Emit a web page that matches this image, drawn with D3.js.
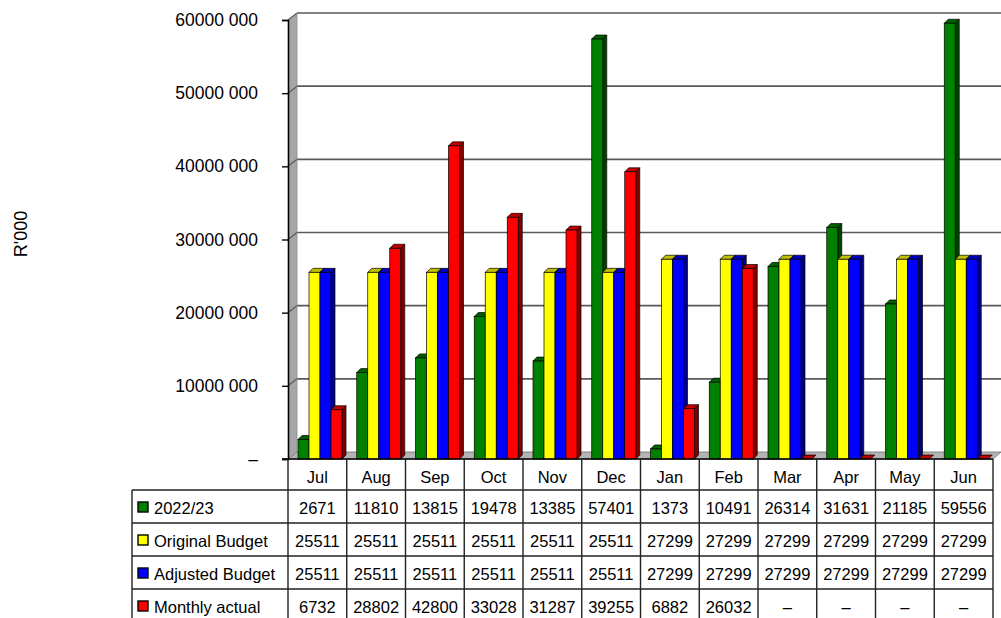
<!DOCTYPE html>
<html>
<head>
<meta charset="utf-8">
<script src="https://cdn.jsdelivr.net/npm/d3@7"></script>
<style>
  body { margin: 0; background: #fff; }
  text { font-family: "Liberation Sans", Arial, sans-serif; fill: #000; }
</style>
</head>
<body>
<svg id="chart" width="1001" height="618"></svg>
<script>
// ---- data (R'000) ----
const months = ["Jul","Aug","Sep","Oct","Nov","Dec","Jan","Feb","Mar","Apr","May","Jun"];
const seriesNames = ["2022/23","Original Budget","Adjusted Budget","Monthly actual"];
const actual2223 = [2671,11810,13815,19478,13385,57401,1373,10491,26314,31631,21185,59556];
const originalBudget = [25511,25511,25511,25511,25511,25511,27299,27299,27299,27299,27299,27299];
const adjustedBudget = [25511,25511,25511,25511,25511,25511,27299,27299,27299,27299,27299,27299];
const monthlyActual = [6732,28802,42800,33028,31287,39255,6882,26032,null,null,null,null];
const yTicks = [0,10000,20000,30000,40000,50000,60000];
const yTitle = "R'000";

const series = [actual2223, originalBudget, adjustedBudget, monthlyActual];
const colors = [
  {front:"#008000", side:"#004000", top:"#006000"},
  {front:"#ffff00", side:"#808000", top:"#c0c000"},
  {front:"#0000ff", side:"#000080", top:"#0000c0"},
  {front:"#ff0000", side:"#800000", top:"#c00000"}
];

const svg = d3.select("#chart");
const plotLeft = 288, plotRight = 993, plotTop = 20, plotBottom = 459;
const wallDx = 9, wallDy = -7;     // back-wall depth
const barDx = 4, barDy = -4;       // bar depth

const x = d3.scaleBand().domain(months).range([plotLeft, plotRight]).padding(0);
const y = d3.scaleLinear().domain([0, 60000]).range([plotBottom, plotTop]);
const inner = d3.scaleBand().domain(d3.range(4)).range([0, 44]).padding(0);
const groupOffset = 10;

// left wall
svg.append("polygon")
  .attr("points", [[plotLeft, plotBottom],[plotLeft, plotTop],[plotLeft+wallDx, plotTop+wallDy],[plotLeft+wallDx, plotBottom+wallDy]].join(" "))
  .attr("fill", "#a6a6a6");
// floor
svg.append("polygon")
  .attr("points", [[plotLeft, plotBottom],[plotLeft+wallDx, plotBottom+wallDy],[1001, plotBottom+wallDy],[plotRight, plotBottom]].join(" "))
  .attr("fill", "#b4b4b4").attr("stroke", "#707070").attr("stroke-width", 0.8);

// gridlines on back wall + slant on left wall
const grid = svg.append("g");
yTicks.filter(t => t > 0).forEach(t => {
  grid.append("line")
    .attr("x1", plotLeft + wallDx).attr("x2", 1001)
    .attr("y1", y(t) + wallDy).attr("y2", y(t) + wallDy)
    .attr("stroke", "#5a5a5a").attr("stroke-width", 1.6);
  grid.append("line")
    .attr("x1", plotLeft).attr("x2", plotLeft + wallDx)
    .attr("y1", y(t)).attr("y2", y(t) + wallDy)
    .attr("stroke", "#5a5a5a").attr("stroke-width", 1.2);
});
svg.append("line")
  .attr("x1", plotLeft + wallDx).attr("x2", plotLeft + wallDx)
  .attr("y1", plotTop + wallDy).attr("y2", plotBottom + wallDy)
  .attr("stroke", "#8a8a8a").attr("stroke-width", 0.8);

// y axis
const yAxis = d3.axisLeft(y).tickValues(yTicks).tickSize(6).tickPadding(24)
  .tickFormat(d => d === 0 ? "–" : d + " 000");
const ga = svg.append("g").attr("transform", `translate(${plotLeft},0)`).call(yAxis);
ga.select(".domain").attr("stroke", "#000").attr("stroke-width", 1.6);
ga.selectAll(".tick line").attr("stroke", "#000").attr("stroke-width", 1.4);
ga.selectAll(".tick text").style("font-size", "17.5px").style("font-family", "'Liberation Sans', Arial, sans-serif").attr("fill", "#222");

// y title
svg.append("text")
  .attr("transform", "translate(27,234) rotate(-90)")
  .attr("text-anchor", "middle")
  .style("font-size", "18px")
  .attr("fill", "#222")
  .text(yTitle);

// bars
const barsG = svg.append("g");
months.forEach((m, i) => {
  series.forEach((s, k) => {
    const v = s[i] == null ? 0 : s[i];
    const x0 = x(m) + groupOffset + inner(k);
    const w = inner.bandwidth();
    const yt = y(v), yb = y(0);
    const c = colors[k];
    const g = barsG.append("g");
    if (v > 0) {
      g.append("polygon")
        .attr("points", [[x0+w, yb],[x0+w, yt],[x0+w+barDx, yt+barDy],[x0+w+barDx, yb+barDy]].join(" "))
        .attr("fill", c.side).attr("stroke", "#000").attr("stroke-width", 0.7);
    }
    g.append("polygon")
      .attr("points", [[x0, yt],[x0+barDx, yt+barDy],[x0+w+barDx, yt+barDy],[x0+w, yt]].join(" "))
      .attr("fill", c.top).attr("stroke", "#000").attr("stroke-width", 0.7);
    if (v > 0) {
      g.append("rect")
        .attr("x", x0).attr("y", yt).attr("width", w).attr("height", yb - yt)
        .attr("fill", c.front).attr("stroke", "#000").attr("stroke-width", 0.7);
    }
  });
});

// floor front edge
svg.append("line").attr("x1", plotLeft - 6).attr("x2", plotRight)
  .attr("y1", plotBottom).attr("y2", plotBottom)
  .attr("stroke", "#000").attr("stroke-width", 1.4);

// data table
const legendLeft = 132;
const rowTops = [459, 490, 523, 556, 589];
const rowH = 33;
const tbl = svg.append("g");
const lineC = "#222";
// verticals of month columns
months.forEach((m, i) => {
  tbl.append("line").attr("x1", x(m)).attr("x2", x(m)).attr("y1", plotBottom).attr("y2", 618)
    .attr("stroke", lineC).attr("stroke-width", 1.4);
});
tbl.append("line").attr("x1", plotRight).attr("x2", plotRight).attr("y1", plotBottom + wallDy + 7).attr("y2", 618)
  .attr("stroke", lineC).attr("stroke-width", 1.4);
tbl.append("line").attr("x1", legendLeft).attr("x2", legendLeft).attr("y1", rowTops[1]).attr("y2", 618)
  .attr("stroke", lineC).attr("stroke-width", 1.4);
rowTops.slice(1).forEach(t => {
  tbl.append("line").attr("x1", legendLeft).attr("x2", plotRight).attr("y1", t).attr("y2", t)
    .attr("stroke", lineC).attr("stroke-width", 1.4);
});
// month labels
months.forEach(m => {
  tbl.append("text").attr("x", x(m) + x.bandwidth()/2).attr("y", 477)
    .attr("text-anchor", "middle").attr("dominant-baseline", "central")
    .style("font-size", "16.5px").attr("fill", "#222").text(m);
});
// rows
series.forEach((s, k) => {
  const cy = rowTops[k+1] + rowH/2 + 1;
  tbl.append("rect").attr("x", 138).attr("y", cy - 5.5).attr("width", 10).attr("height", 10)
    .attr("fill", colors[k].front).attr("stroke", "#000").attr("stroke-width", 1.4);
  tbl.append("text").attr("x", 154).attr("y", cy).attr("dominant-baseline", "central")
    .style("font-size", "16.5px").attr("fill", "#222").text(seriesNames[k]);
  months.forEach((m, i) => {
    tbl.append("text").attr("x", x(m) + x.bandwidth()/2).attr("y", cy)
      .attr("text-anchor", "middle").attr("dominant-baseline", "central")
      .style("font-size", "16.5px").attr("fill", "#222")
      .text(s[i] == null ? "–" : s[i]);
  });
});
</script>
</body>
</html>
